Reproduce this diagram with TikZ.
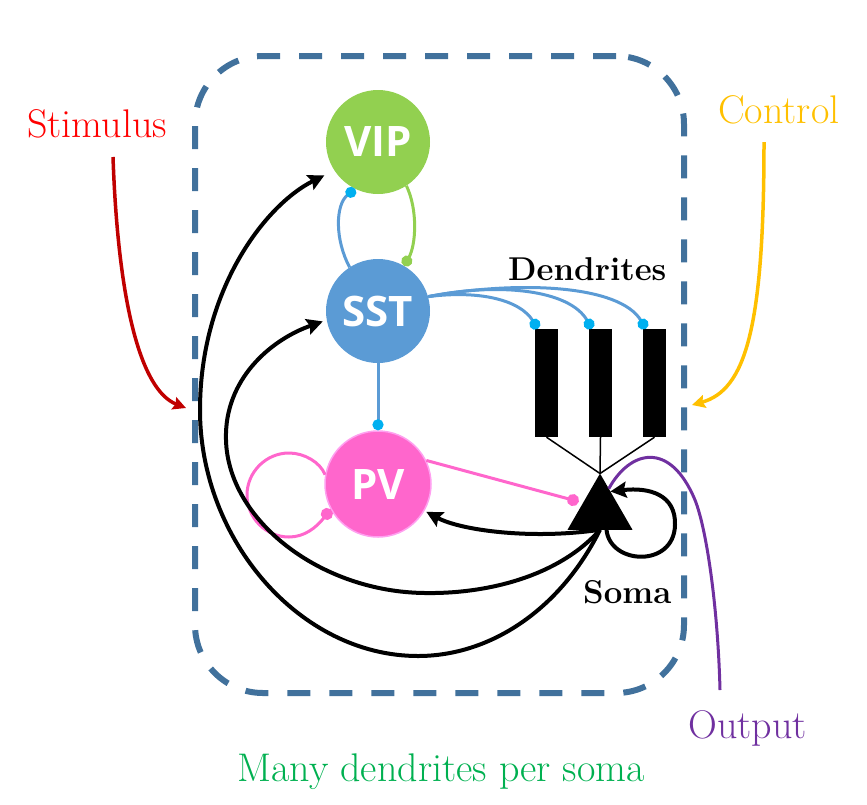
\documentclass[tikz,border=0pt]{standalone}
\usepackage{fontspec}
\newfontfamily\cellfont{Open Sans}
\usetikzlibrary{arrows.meta,calc,shapes.geometric}
\definecolor{vipc}{HTML}{92D050}
\definecolor{sstc}{HTML}{5B9BD5}
\definecolor{pvc}{HTML}{FF66CC}
\definecolor{pvedge}{HTML}{FFA0F0}
\definecolor{dotblue}{HTML}{00B0F0}
\definecolor{boxc}{HTML}{41719C}
\definecolor{stimtext}{HTML}{FF0000}
\definecolor{stimline}{HTML}{C00000}
\definecolor{ctrlc}{HTML}{FFC000}
\definecolor{outc}{HTML}{7030A0}
\definecolor{manyc}{HTML}{00B050}
\begin{document}
\begin{tikzpicture}[x=1pt,y=-1pt,
  cell/.style={circle, minimum size=104pt, inner sep=0pt, text=white,
    font=\cellfont\bfseries\fontsize{42}{50}\selectfont},
  exc/.style={line width=4pt, -{Stealth[length=16pt,width=16pt,inset=2.5pt]}},
  inh/.style={line width=3pt, -{Circle[length=11pt]}},
  lbl/.style={anchor=base west, inner sep=0pt, font=\fontsize{40}{48}\selectfont},
  blbl/.style={anchor=base west, inner sep=0pt, font=\bfseries\fontsize{33}{38}\selectfont},
  bar/.style={fill=black, minimum width=23pt, minimum height=108pt, inner sep=0pt},
  inarrow/.style={line width=3.5pt, -{Stealth[length=13pt,width=13pt,inset=2pt]}}
]
\useasboundingbox (0,0) rectangle (867,804);

% dashed box
\node[draw=boxc, line width=6pt, dash pattern=on 23pt off 19pt, rounded corners=68pt,
  minimum width=489pt, minimum height=637pt, inner sep=0pt] (box) at (439.5,374.5) {};

% cells
\node[cell, fill=vipc] (vip) at (378,142) {VIP};
\node[cell, fill=sstc] (sst) at (378,311) {SST};
\node[cell, fill=pvc, draw=pvedge, line width=1.5pt, minimum size=106pt] (pv) at (378,484) {PV};

% dendrites and soma
\node[bar] (d1) at (546.5,383) {};
\node[bar] (d2) at (600.5,383) {};
\node[bar] (d3) at (654.5,383) {};
\node[regular polygon, regular polygon sides=3, fill=black, minimum size=75pt,
  inner sep=0pt, outer sep=0pt] (soma) at (600,511) {};
\draw[line width=1.5pt] (d1.south) -- (soma.corner 1);
\draw[line width=1.5pt] (d2.south) -- (soma.corner 1);
\draw[line width=1.5pt] (d3.south) -- (soma.corner 1);

% labels
\node[blbl] (dendlbl) at (508,280) {Dendrites};
\node[blbl] (somalbl) at (583,603) {Soma};
\node[lbl, text=stimtext] (stim) at (27,137) {Stimulus};
\node[lbl, text=ctrlc] (ctrl) at (718,123) {Control};
\node[lbl, text=outc] (outp) at (688,738) {Output};
\node[lbl, text=manyc] (many) at (237,781) {Many dendrites per soma};

% input / output connectors
\coordinate (stimS) at (113,157);
\coordinate (stimE) at (186,408);
\draw[inarrow, stimline] (stimS) .. controls (118,300) and (140,390) .. (stimE);
\coordinate (ctrlS) at (764,142);
\coordinate (ctrlE) at (692,405);
\draw[inarrow, ctrlc] (ctrlS) .. controls (764,330) and (745,390) .. (ctrlE);
\coordinate (outE) at (720,690);
\draw[line width=3pt, outc] ($(soma.corner 1)!0.27!(soma.corner 3)$)
  .. controls (630,450) and (670,440) .. (695,500)
  .. controls (707,530) and (718,610) .. (outE);

% inhibitory connections
\draw[inh, sstc, -{Circle[length=11pt, color=dotblue]}] (sst.123) .. controls (335,240) and (335,205) .. (vip.244);
\draw[inh, vipc] (vip.-57) .. controls (418,210) and (416,245) .. (sst.60);
\draw[inh, sstc, -{Circle[length=11pt, color=dotblue]}] (sst.south) -- (pv.north);
\draw[inh, sstc, -{Circle[length=11pt, color=dotblue]}] (sst.16) .. controls (480,290) and (520,300) .. ($(d1.north west)+(3,0)$);
\draw[inh, sstc, -{Circle[length=11pt, color=dotblue]}] (sst.16) .. controls (500,282) and (570,290) .. ($(d2.north west)+(3,0)$);
\draw[inh, sstc, -{Circle[length=11pt, color=dotblue]}] (sst.16) .. controls (520,280) and (620,285) .. ($(d3.north west)+(3,0)$);
\draw[inh, pvc, -{Circle[length=12pt]}] (pv.26) -- ($(soma.corner 1)!0.5!(soma.corner 2)+(-5,0)$);
\draw[inh, pvc, -{Circle[length=12pt]}] (pv.170) .. controls (320,462) and (304,453) .. (289,453)
  .. controls (266,453) and (247,472) .. (247,495)
  .. controls (247,518) and (266,537) .. (289,537)
  .. controls (304,537) and (316,528) .. (pv.208);

% excitatory connections from soma
\draw[exc, shorten >=2pt] (soma.side 2) .. controls (530,540) and (460,530) .. (pv.-30);
\draw[exc, shorten >=4pt] (soma.side 2) .. controls (560,575) and (490,594) .. (425,593)
  .. controls (320,592) and (228,520) .. (226,440)
  .. controls (224,380) and (270,340) .. (sst.190);
\draw[exc, shorten >=11pt] (soma.side 2) .. controls (560,610) and (490,656) .. (418,656)
  .. controls (300,656) and (200,540) .. (200,410)
  .. controls (200,290) and (265,205) .. (vip.213);
\draw[exc] ($(soma.corner 2)!0.6!(soma.corner 3)$) .. controls (610,565) and (674,568) .. (675,525)
  .. controls (676,495) and (650,487) .. ($(soma.corner 1)!0.32!(soma.corner 3)$);
\end{tikzpicture}
\end{document}
